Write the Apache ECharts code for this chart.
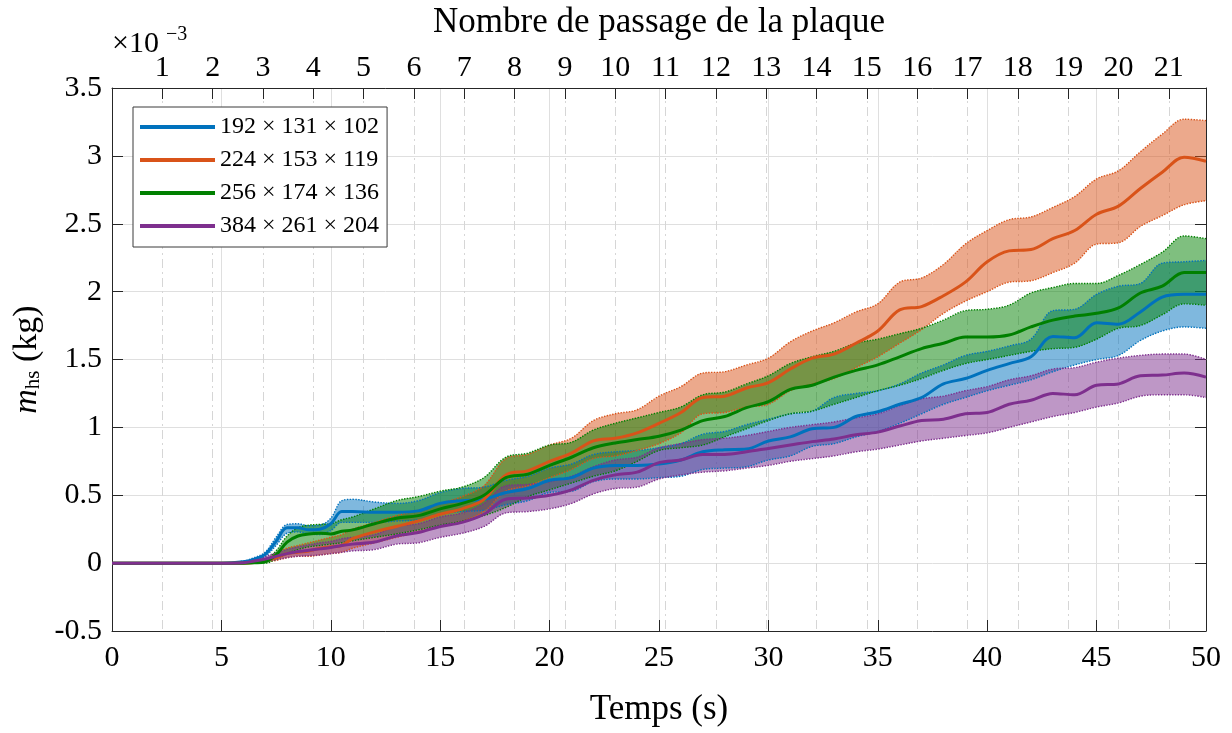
<!DOCTYPE html>
<html>
<head>
<meta charset="utf-8">
<script src="https://cdn.jsdelivr.net/npm/echarts@6/dist/echarts.min.js"></script>
<style>
html,body{margin:0;padding:0;background:#fff;}
#c{width:1232px;height:733px;}
</style>
</head>
<body>
<div id="c"></div>
<script>
// ---------- DATA ----------
const times = [0,1,2,3,4,5,6,6.5,7,7.5,8,8.5,9,9.5,10,10.5,11,12,13,14,15,16,17,18,19,20,21,22,23,24,25,26,27,28,29,30,31,32,33,34,35,36,37,38,39,40,41,42,43,44,45,46,47,48,49,50];

const seriesNames = ['192×131×102','224×153×119','256×174×136','384×261×204'];

const blueMean = [0,0,0,0,0,0,
  0.01,0.03,0.065,0.16,0.26,0.26,0.245,0.25,0.29,0.38,
  0.38,0.375,0.375,0.385,0.44,0.46,0.47,0.52,0.55,0.61,
  0.63,0.70,0.72,0.72,0.73,0.76,0.82,0.835,0.84,0.90,
  0.93,0.99,1.0,1.08,1.115,1.17,1.22,1.32,1.36,1.42,
  1.47,1.52,1.67,1.66,1.77,1.76,1.85,1.96,1.98,1.98];
const blueUpper = [0,0,0,0,0,0,
  0.015,0.04,0.08,0.19,0.285,0.29,0.275,0.28,0.33,0.46,
  0.47,0.45,0.44,0.46,0.52,0.55,0.56,0.61,0.64,0.70,
  0.73,0.80,0.82,0.83,0.85,0.88,0.95,0.97,1.02,1.06,
  1.10,1.12,1.22,1.25,1.27,1.32,1.40,1.46,1.53,1.56,
  1.60,1.65,1.86,1.87,1.98,2.04,2.06,2.21,2.22,2.23];
const blueLower = [0,0,0,0,0,0,
  0.005,0.02,0.05,0.13,0.22,0.23,0.215,0.21,0.24,0.30,
  0.30,0.30,0.31,0.32,0.36,0.38,0.39,0.43,0.46,0.52,
  0.53,0.60,0.62,0.62,0.63,0.64,0.69,0.70,0.71,0.76,
  0.79,0.86,0.88,0.93,0.97,1.03,1.10,1.17,1.22,1.27,
  1.31,1.35,1.41,1.46,1.50,1.53,1.64,1.71,1.74,1.73];

const orangeMean = [0,0,0,0,0,0,
  0,0.005,0.02,0.04,0.07,0.08,0.09,0.11,0.12,0.13,
  0.18,0.23,0.27,0.31,0.36,0.40,0.47,0.65,0.68,0.75,
  0.81,0.90,0.92,0.96,1.03,1.11,1.22,1.23,1.29,1.33,
  1.43,1.51,1.54,1.62,1.71,1.865,1.89,1.97,2.07,2.22,
  2.30,2.31,2.39,2.45,2.57,2.63,2.76,2.88,2.99,2.96];
const orangeUpper = [0,0,0,0,0,0,
  0,0.01,0.03,0.07,0.11,0.13,0.15,0.17,0.19,0.21,
  0.25,0.30,0.35,0.39,0.44,0.49,0.57,0.77,0.80,0.87,
  0.92,1.05,1.10,1.13,1.23,1.30,1.40,1.41,1.46,1.51,
  1.63,1.71,1.77,1.85,1.91,2.07,2.10,2.20,2.35,2.45,
  2.53,2.55,2.62,2.70,2.83,2.89,3.03,3.16,3.27,3.26];
const orangeLower = [0,0,0,0,0,0,
  0,0,0.01,0.02,0.04,0.05,0.05,0.06,0.07,0.08,
  0.11,0.15,0.19,0.23,0.27,0.31,0.38,0.53,0.57,0.63,
  0.69,0.77,0.79,0.83,0.88,0.96,1.10,1.11,1.15,1.17,
  1.27,1.32,1.36,1.44,1.52,1.62,1.72,1.84,1.93,2.00,
  2.07,2.08,2.14,2.21,2.35,2.36,2.48,2.56,2.64,2.67];

const greenMean = [0,0,0,0,0,0,
  0,0.002,0.01,0.06,0.155,0.20,0.215,0.22,0.215,0.235,
  0.245,0.29,0.33,0.35,0.40,0.44,0.50,0.63,0.655,0.72,
  0.78,0.85,0.885,0.91,0.935,0.98,1.05,1.08,1.145,1.19,
  1.28,1.31,1.37,1.42,1.46,1.52,1.58,1.62,1.665,1.665,
  1.68,1.74,1.79,1.82,1.84,1.88,1.99,2.04,2.14,2.14];
const greenUpper = [0,0,0,0,0,0,
  0,0.004,0.02,0.09,0.20,0.26,0.28,0.285,0.29,0.32,
  0.34,0.40,0.46,0.49,0.53,0.56,0.63,0.78,0.81,0.87,
  0.89,0.98,1.03,1.07,1.11,1.15,1.24,1.26,1.32,1.38,
  1.47,1.52,1.56,1.62,1.65,1.69,1.73,1.79,1.86,1.87,
  1.90,1.99,2.03,2.06,2.06,2.12,2.20,2.29,2.41,2.39];
const greenLower = [0,0,0,0,0,0,
  0,0,0,0.03,0.07,0.10,0.12,0.13,0.14,0.15,
  0.165,0.19,0.215,0.245,0.28,0.31,0.35,0.41,0.49,0.54,
  0.59,0.64,0.68,0.75,0.83,0.85,0.87,0.93,0.99,1.05,
  1.10,1.12,1.17,1.22,1.27,1.31,1.36,1.42,1.47,1.50,
  1.53,1.56,1.58,1.59,1.65,1.73,1.75,1.83,1.91,1.90];

const purpleMean = [0,0,0,0,0,0,
  0.003,0.015,0.03,0.05,0.07,0.085,0.095,0.105,0.115,0.13,
  0.14,0.155,0.20,0.225,0.27,0.30,0.36,0.47,0.48,0.50,
  0.54,0.61,0.65,0.67,0.74,0.76,0.80,0.80,0.82,0.845,
  0.87,0.895,0.915,0.945,0.965,1.01,1.05,1.06,1.10,1.11,
  1.17,1.20,1.25,1.24,1.31,1.32,1.38,1.385,1.40,1.37];
const purpleUpper = [0,0,0,0,0,0,
  0.006,0.025,0.05,0.075,0.10,0.12,0.135,0.15,0.16,0.18,
  0.19,0.21,0.27,0.29,0.34,0.37,0.44,0.57,0.58,0.60,
  0.64,0.71,0.76,0.78,0.85,0.88,0.91,0.92,0.94,0.97,
  1.0,1.02,1.04,1.07,1.10,1.16,1.21,1.23,1.27,1.30,
  1.35,1.38,1.43,1.44,1.48,1.51,1.53,1.54,1.54,1.50];
const purpleLower = [0,0,0,0,0,0,
  0,0.007,0.015,0.025,0.04,0.05,0.055,0.06,0.07,0.08,
  0.09,0.10,0.14,0.15,0.19,0.22,0.27,0.37,0.38,0.40,
  0.44,0.51,0.55,0.56,0.62,0.65,0.67,0.68,0.70,0.72,
  0.75,0.77,0.79,0.82,0.84,0.87,0.90,0.92,0.94,0.96,
  1.00,1.04,1.08,1.11,1.15,1.18,1.23,1.24,1.24,1.22];

// top axis: plate passages (time in s) and their labels
const passageTimes = [2.3,4.6,6.9,9.2,11.5,13.8,16.1,18.4,20.7,23.0,25.3,27.6,29.9,32.2,34.5,36.8,39.1,41.4,43.7,46.0,48.3];
const passageLabels = ['1','2','3','4','5','6','7','8','9','10','11','12','13','14','15','16','17','18','19','20','21'];

// ---------- CHART ----------
const F = '"Liberation Serif", "DejaVu Serif", serif';
const AX = '#262626';
const colors = ['#0072BD','#D95319','#008000','#7E2F8E'];
const groups = [
  {mean: blueMean, lo: blueLower, hi: blueUpper},
  {mean: orangeMean, lo: orangeLower, hi: orangeUpper},
  {mean: greenMean, lo: greenLower, hi: greenUpper},
  {mean: purpleMean, lo: purpleLower, hi: purpleUpper}
];
const SM = 0.35;
const series = [];
// band series: rows are [value, time] so that the stacked dimension is the value (y)
groups.forEach((g, i) => {
  series.push({
    type: 'line', name: 'band-lo-' + i, stack: 'band' + i, silent: true,
    dimensions: ['v', 't'], encode: {x: 't', y: 'v'},
    data: times.map((t, k) => [g.lo[k], t]),
    smooth: SM, showSymbol: false, symbol: 'none', z: 2,
    lineStyle: {type: 'dotted', width: 1.4, color: colors[i]},
    itemStyle: {color: colors[i]}
  });
  series.push({
    type: 'line', name: 'band-hi-' + i, stack: 'band' + i, silent: true,
    dimensions: ['v', 't'], encode: {x: 't', y: 'v'},
    data: times.map((t, k) => [+(g.hi[k] - g.lo[k]).toFixed(4), t]),
    smooth: SM, showSymbol: false, symbol: 'none', z: 2,
    lineStyle: {type: 'dotted', width: 1.4, color: colors[i]},
    itemStyle: {color: colors[i]},
    areaStyle: {color: colors[i], opacity: 0.5}
  });
});
groups.forEach((g, i) => {
  series.push({
    type: 'line', name: seriesNames[i],
    data: times.map((t, k) => [t, g.mean[k]]),
    smooth: SM, showSymbol: false, symbol: 'none', z: 3,
    lineStyle: {width: 3, color: colors[i]},
    itemStyle: {color: colors[i]}
  });
});

const chart = echarts.init(document.getElementById('c'), null, {renderer: 'canvas'});
chart.setOption({
  animation: false,
  backgroundColor: '#fff',
  grid: {left: 112, right: 26, top: 87, bottom: 102, containLabel: false},
  xAxis: [
    {
      type: 'value', position: 'bottom', min: 0, max: 50, interval: 5,
      axisLine: {show: true, onZero: false, lineStyle: {color: AX, width: 1}},
      axisTick: {show: true, inside: true, length: 11, lineStyle: {color: AX, width: 1}},
      axisLabel: {margin: 12, fontFamily: F, fontSize: 30, color: '#000'},
      splitLine: {show: true, lineStyle: {color: '#dfdfdf', width: 1}},
      name: 'Temps (s)', nameLocation: 'middle', nameGap: 61,
      nameTextStyle: {fontFamily: F, fontSize: 35, color: '#000'}
    },
    {
      type: 'value', position: 'top', min: 0, max: 50,
      axisLine: {show: true, onZero: false, lineStyle: {color: AX, width: 1}},
      axisTick: {show: true, inside: true, length: 11, customValues: passageTimes, lineStyle: {color: AX, width: 1}},
      axisLabel: {
        margin: 5, fontFamily: F, fontSize: 30, color: '#000', customValues: passageTimes,
        formatter: v => {
          const k = passageTimes.findIndex(p => Math.abs(p - v) < 1e-6);
          return k >= 0 ? passageLabels[k] : '';
        }
      },
      splitLine: {show: true, lineStyle: {color: '#d6d6d6', width: 1, type: [9, 4, 2, 4]}},
      name: 'Nombre de passage de la plaque', nameLocation: 'middle', nameGap: 48,
      nameTextStyle: {fontFamily: F, fontSize: 35, color: '#000'}
    }
  ],
  yAxis: [
    {
      type: 'value', position: 'left', min: -0.5, max: 3.5, interval: 0.5,
      axisLine: {show: true, onZero: false, lineStyle: {color: AX, width: 1}},
      axisTick: {show: true, inside: true, length: 11, lineStyle: {color: AX, width: 1}},
      axisLabel: {margin: 10, fontFamily: F, fontSize: 30, color: '#000'},
      splitLine: {show: true, lineStyle: {color: '#dfdfdf', width: 1}},
      name: '{i|m}{s|hs} (kg)', nameLocation: 'middle', nameGap: 55, nameRotate: 90,
      nameTextStyle: {
        fontFamily: F, fontSize: 34, color: '#000',
        rich: {
          i: {fontFamily: F, fontSize: 34, fontStyle: 'italic', color: '#000'},
          s: {fontFamily: F, fontSize: 21, color: '#000', verticalAlign: 'bottom'}
        }
      }
    },
    {
      type: 'value', position: 'right', min: -0.5, max: 3.5, interval: 0.5,
      axisLine: {show: true, onZero: false, lineStyle: {color: AX, width: 1}},
      axisTick: {show: true, inside: true, length: 11, lineStyle: {color: AX, width: 1}},
      axisLabel: {show: false},
      splitLine: {show: false}
    }
  ],
  legend: {
    data: seriesNames,
    orient: 'vertical', left: 133, top: 107,
    padding: [8, 8, 9, 7], itemGap: 9, itemWidth: 75, itemHeight: 4, icon: 'rect',
    backgroundColor: '#fff', borderColor: '#3a3a3a', borderWidth: 1, borderRadius: 0,
    selectedMode: false,
    textStyle: {
      fontFamily: F, fontSize: 24, color: '#000',
      rich: {x: {fontFamily: F, fontSize: 24, color: '#000', padding: [0, 6]}}
    },
    formatter: n => n.replace(/×/g, '{x|×}')
  },
  graphic: [
    {type: 'text', left: 112, top: 29, z: 10, style: {text: '×10', font: '30px "Liberation Serif"', fill: '#000'}},
    {type: 'text', left: 166, top: 25, z: 10, style: {text: '−3', font: '20px "Liberation Serif"', fill: '#000'}}
  ],
  series: series
});
</script>
</body>
</html>
